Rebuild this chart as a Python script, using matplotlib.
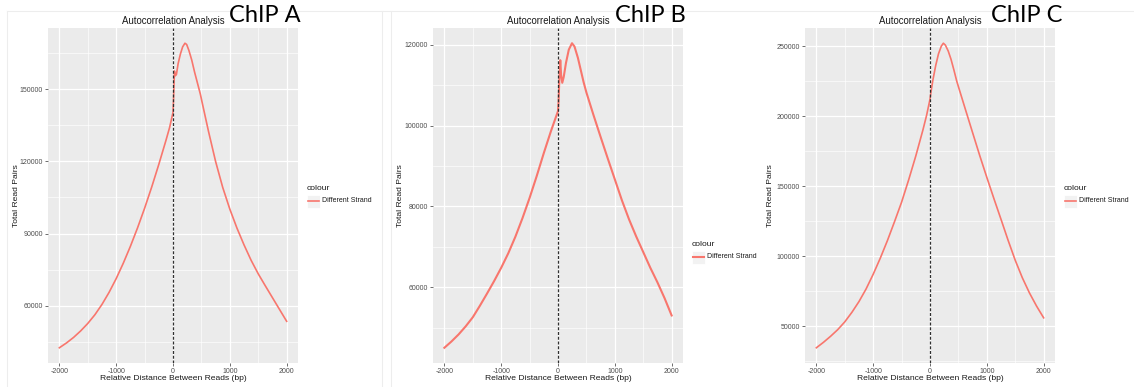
import matplotlib
matplotlib.use("Agg")
import matplotlib.pyplot as plt
from matplotlib.lines import Line2D
from matplotlib.patches import Rectangle
from matplotlib.ticker import MultipleLocator, FormatStrFormatter

plt.rcParams['font.family'] = ['Liberation Sans', 'DejaVu Sans']
plt.rcParams['axes.unicode_minus'] = False

# read-pair counts against distance between reads (bp), one run per ChIP
lag_a = [-2000, -1875, -1750, -1625, -1500, -1375, -1250, -1125, -1000, -875, -750, -625,
         -500, -375, -250, -125, -60, 0, 10, 25, 40, 60, 90, 130, 170, 210, 240, 280, 330,
         380, 430, 480, 540, 625, 750, 875, 1000, 1125, 1250, 1375, 1500, 1625, 1750,
         1875, 2000]
pairs_a = [42600, 44600, 46900, 49600, 52700, 56300, 60600, 65600, 71300, 77700, 84700, 92300,
           100500, 109300, 118700, 128600, 134000, 140300, 146000, 157500, 155500, 156000,
           160500, 164500, 167500, 169000, 168500, 166000, 162000, 157000, 152500, 148000,
           141500, 132400, 119900, 109150, 100150, 92300, 85300, 78900, 73300, 68300,
           63400, 58500, 53600]

lag_b = [-2000, -1875, -1750, -1625, -1500, -1375, -1250, -1125, -1000, -875, -750, -625,
         -500, -375, -250, -125, 0, 10, 25, 40, 55, 75, 100, 140, 190, 246, 290, 350, 400,
         450, 500, 625, 750, 875, 1000, 1125, 1250, 1375, 1500, 1625, 1750, 1875, 2000]
pairs_b = [45000, 46560, 48300, 50300, 52550, 55400, 58400, 61500, 64800, 68400, 72500, 77100,
           82100, 87500, 93200, 98600, 103600, 106000, 112000, 116200, 112500, 110600, 112000,
           115500, 118800, 120400, 119600, 116800, 113800, 110800, 108200, 102600, 97200,
           91900, 86700, 81500, 76800, 72600, 68700, 64800, 61200, 57300, 53000]

lag_c = [-2000, -1875, -1750, -1625, -1500, -1375, -1250, -1125, -1000, -875, -750, -625,
         -500, -375, -250, -125, -60, 0, 15, 50, 100, 150, 200, 235, 270, 320, 370, 420, 470,
         500, 625, 750, 875, 1000, 1125, 1250, 1375, 1500, 1625, 1750, 1875, 2000]
pairs_c = [34500, 38400, 42700, 47400, 53000, 59800, 67500, 76500, 87000, 98500, 111000, 124500,
           138500, 154500, 171500, 190000, 200500, 212000, 216500, 225500, 236000, 244500,
           250000, 252000, 250700, 246500, 240500, 233000, 225000, 221000, 204500, 188100,
           171800, 156200, 141000, 126200, 111200, 97000, 84500, 73700, 64300, 55900]

chip_names = ["ChIP A", "ChIP B", "ChIP C"]
series_label = "Different Strand"

W, H = 1134, 387
fig = plt.figure(figsize=(W / 100, H / 100), dpi=100)
red = '#F8766D'


def fx(px):
    return px / W


def fy(py):
    return 1 - py / H


# faint screenshot frames
for seg in [((7, 11), (1134, 11)), ((7, 11), (7, 387)), ((382, 11), (382, 387)), ((391, 11), (391, 387))]:
    (x0, y0), (x1, y1) = seg
    fig.add_artist(Line2D([fx(x0), fx(x1)], [fy(y0), fy(y1)], color='#EDEDED', lw=0.8))


def panel(left, lag, pairs, major, minor, lw, ylab_px, leg_y, tag_x, name):
    ax = fig.add_axes([fx(left), fy(363), fx(250), 335 / H])
    ax.set_facecolor('#EBEBEB')
    for s in ax.spines.values():
        s.set_visible(False)
    ax.plot(lag, pairs, color=red, lw=lw, solid_joinstyle='round', zorder=3)
    ax.axvline(0, color='#303030', lw=0.9, dashes=(2.4, 1.4), zorder=4)
    ax.margins(x=0.05, y=0.05)
    ax.xaxis.set_major_locator(MultipleLocator(1000))
    ax.xaxis.set_minor_locator(MultipleLocator(500))
    ax.yaxis.set_major_locator(MultipleLocator(major))
    ax.yaxis.set_minor_locator(MultipleLocator(minor))
    ax.yaxis.set_major_formatter(FormatStrFormatter('%d'))
    ax.grid(which='major', color='white', lw=0.9)
    ax.grid(which='minor', color='white', lw=0.45)
    ax.set_axisbelow(True)
    ax.tick_params(which='major', length=2, width=0.6, color='#555555', labelsize=5,
                   labelcolor='#4D4D4D', pad=1.5)
    ax.tick_params(which='minor', length=0)
    ax.set_title("Autocorrelation Analysis", fontsize=6.9, color='#1A1A1A', pad=3)
    ax.set_xlabel("Relative Distance Between Reads (bp)", fontsize=6.1, color='#1A1A1A',
                  va='center')
    ax.set_ylabel("Total Read Pairs", fontsize=6.1, color='#1A1A1A', va='center')
    ax.xaxis.set_label_coords(0.5, -0.0455)
    ax.yaxis.set_label_coords((ylab_px - left) / 250, 0.5)

    # legend: title, grey key with the line, label
    kx = left + 259
    fig.text(fx(kx), fy(leg_y), "colour", fontsize=6.1, color='#1A1A1A', va='center')
    fig.add_artist(Rectangle((fx(kx), fy(leg_y + 20)), fx(13), 13 / H,
                             facecolor='#F2F2F2', edgecolor='white', lw=0.6))
    fig.add_artist(Line2D([fx(kx + 1), fx(kx + 12)], [fy(leg_y + 13)] * 2, color=red, lw=lw))
    fig.text(fx(kx + 15), fy(leg_y + 13), series_label, fontsize=5, color='#1A1A1A', va='center')

    fig.text(fx(tag_x), fy(15), name, fontsize=17, family='Lato', color='black',
             ha='center', va='center')
    return ax


panel(48, lag_a, pairs_a, 30000, 15000, 1.2, 16, 188, 265, chip_names[0])
panel(433, lag_b, pairs_b, 20000, 10000, 1.5, 400, 244, 650, chip_names[1])
panel(805, lag_c, pairs_c, 50000, 25000, 1.2, 770, 188, 1027, chip_names[2])

fig.savefig("out.png", dpi=100, facecolor='white')
